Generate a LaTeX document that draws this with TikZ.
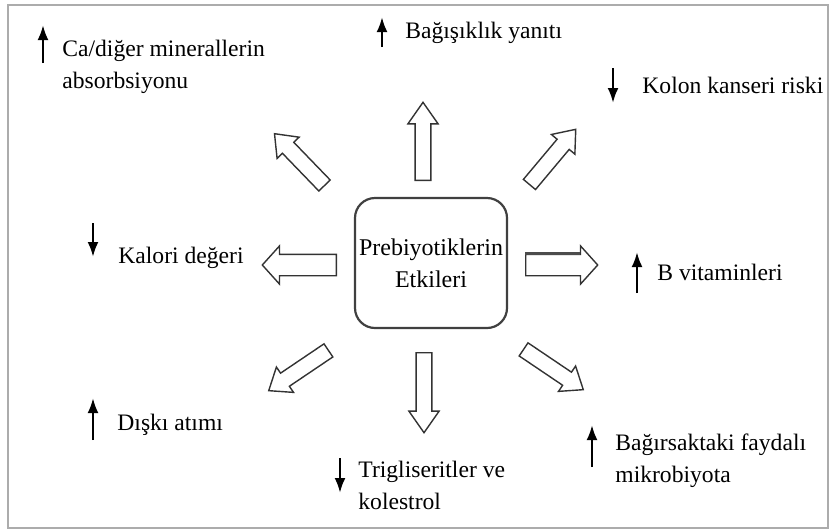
\documentclass[tikz,border=0pt]{standalone}
\usepackage{fontspec}
\setmainfont{Liberation Serif}
\usetikzlibrary{arrows.meta,shapes.arrows}

\begin{document}
\begin{tikzpicture}[x=0.5pt,y=-0.5pt,
frame/.style={draw=gray!65, line width=0.8pt},
centre/.style={draw=black!75, line width=1.1pt, rounded corners=10pt, align=center, minimum width=76pt, minimum height=65pt, inner sep=0pt, font=\fontsize{12}{16}\selectfont},
blockarrow/.style={single arrow, draw=black!80, line width=0.7pt, fill=white, inner xsep=0pt, anchor=tail},
vert/.style={blockarrow, inner ysep=3.6pt, single arrow head extend=3.6pt, single arrow tip angle=70},
horz/.style={blockarrow, inner ysep=5pt, single arrow head extend=4.2pt, single arrow tip angle=96},
diag/.style={blockarrow, inner ysep=3.6pt, minimum height=36pt, single arrow head extend=3.7pt, single arrow tip angle=76},
effect/.style={anchor=base west, align=left, inner sep=0pt, font=\fontsize{11.8}{16}\selectfont},
small/.style={-{Latex[length=7.5pt,width=5.5pt]}, line width=1.3pt},
stripe/.style={line width=1.8pt, black!70}
]
\useasboundingbox (0,0) rectangle (834,531);
\draw[frame] (8,5) rectangle (828,528);

% centre box
\node[centre] (effects) at (431,263) {Prebiyotiklerin\\Etkileri};

% block arrows around the box
\node[vert, minimum height=39pt, rotate=90] (up) at (423,181) {};
\node[vert, minimum height=40pt, rotate=-90] (down) at (424,352) {};
\node[horz, minimum height=37pt, rotate=180] (left) at (337,265) {};
\node[horz, minimum height=36pt] (right) at (525,265) {};
\node[diag, rotate=134] (upleft) at (325,186) {};
\node[diag, rotate=50] (upright) at (529,185) {};
\node[diag, rotate=214] (downleft) at (329,350) {};
\node[diag, rotate=-34] (downright) at (523,349) {};
\draw[stripe] (right.after tail) -- (right.before head);

% effects
\node[effect] (ca) at (62,88) {Ca/diğer minerallerin\\absorbsiyonu};
\node[effect] (bag) at (405,38) {Bağışıklık yanıtı};
\node[effect] (kolon) at (642,93) {Kolon kanseri riski};
\node[effect] (kalori) at (118,263) {Kalori değeri};
\node[effect] (bvit) at (657,280) {B vitaminleri};
\node[effect] (diski) at (117,430) {Dışkı atımı};
\node[effect] (trig) at (358,509) {Trigliseritler ve\\kolestrol};
\node[effect] (mikro) at (615,482) {Bağırsaktaki faydalı\\mikrobiyota};

% increase / decrease marks
\foreach \n/\x/\a/\b in {ca/43/63/25, bag/382/47/17, kolon/613/68/103, kalori/93/223/257,
  bvit/637/293/252, diski/93/440/398, trig/340/458/493, mikro/592/467/425} {
  \coordinate (\n-s) at (\x,\a);
  \coordinate (\n-e) at (\x,\b);
  \draw[small] (\n-s) -- (\n-e);
}
\end{tikzpicture}
\end{document}
